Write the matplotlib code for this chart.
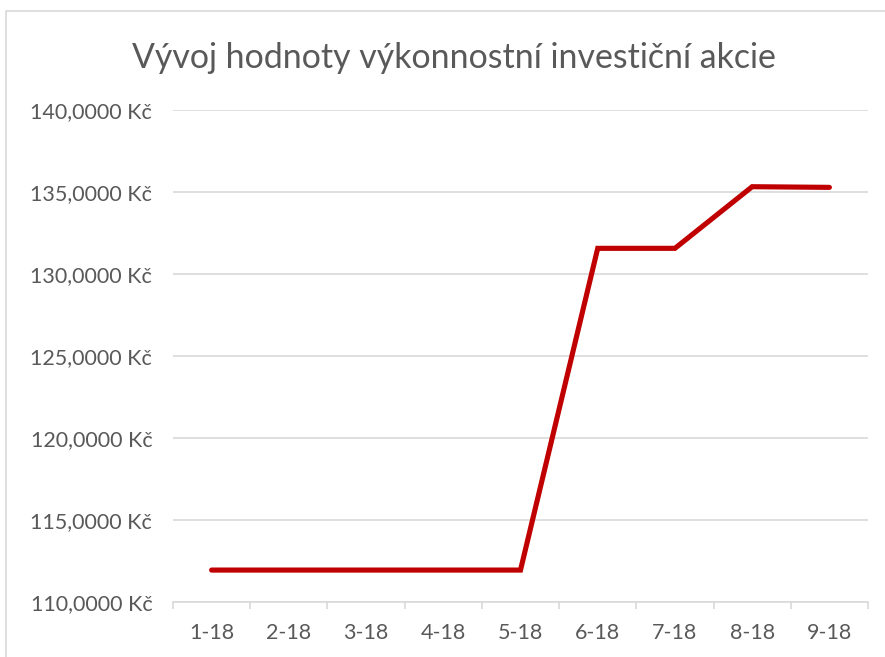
import matplotlib
matplotlib.use("Agg")
import matplotlib.pyplot as plt
from matplotlib.patches import Rectangle
import numpy as np

categories = ["1-18", "2-18", "3-18", "4-18", "5-18", "6-18", "7-18", "8-18", "9-18"]
values = [111.93, 111.93, 111.93, 111.93, 111.93, 131.56, 131.56, 135.32, 135.28]
yticks = [110, 115, 120, 125, 130, 135, 140]
title = "Vývoj hodnoty výkonnostní investiční akcie"

plt.rcParams['font.family'] = ['Lato', 'DejaVu Sans']
TXT = "#595959"
GRID = "#d9d9d9"

fig = plt.figure(figsize=(8.85, 6.57), dpi=100)
fig.patches.append(Rectangle((6/885, -0.1), 1.2, 1 - 11/657 + 0.1, transform=fig.transFigure,
                             fill=False, edgecolor=GRID, linewidth=1.2))
ax = fig.add_axes([173/885, 1 - 601.7/657, (868 - 173)/885, (601.7 - 110)/657])

x = np.arange(len(categories))
ax.plot(x, values, color="#c00000", linewidth=3.7, solid_capstyle="round", solid_joinstyle="miter", zorder=3)

ax.set_xlim(-0.5, len(categories) - 0.5)
ax.set_ylim(110, 140)
ax.set_yticks(yticks)
ax.set_yticklabels([f"{v},0000 Kč" for v in yticks], color=TXT, fontsize=15.5)
ax.set_xticks(x)
ax.set_xticklabels(categories, color=TXT, fontsize=15.5)
ax.set_xticks(np.arange(-0.5, len(categories), 1), minor=True)
ax.tick_params(axis="x", which="major", length=0, pad=15)
ax.tick_params(axis="x", which="minor", length=5, color=GRID, width=1.2)
ax.tick_params(axis="y", length=0, pad=15)
ax.grid(axis="y", color=GRID, linewidth=1.2)
ax.set_axisbelow(True)
for s in ["top", "right", "left"]:
    ax.spines[s].set_visible(False)
ax.spines["bottom"].set_color(GRID)
ax.spines["bottom"].set_linewidth(1.2)

fig.text(454/885, 1 - 58/657, title, ha="center", va="center", color=TXT,
         fontsize=24.4)

fig.savefig("out.png", dpi=100)
